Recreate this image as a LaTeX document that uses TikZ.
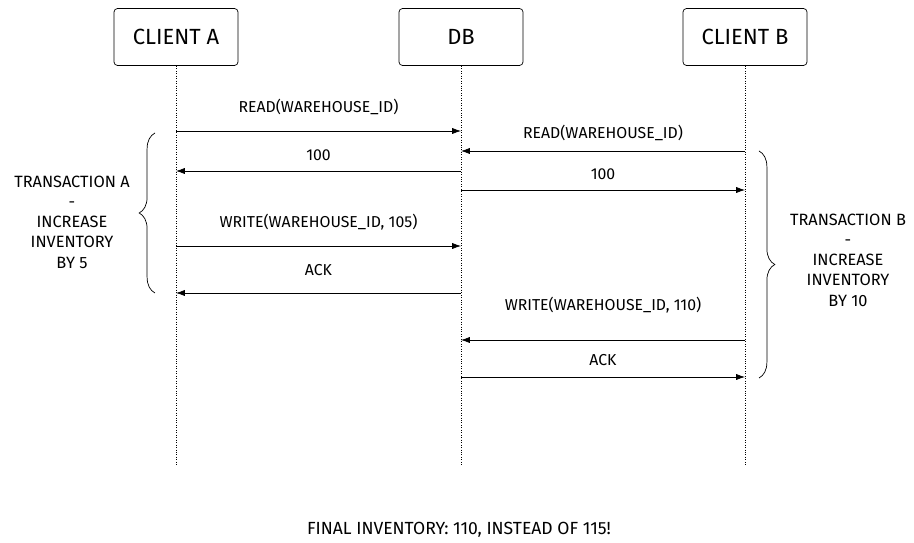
\documentclass[tikz,border=0pt]{standalone}
\usepackage{fontspec}
\setmainfont{Fira Sans}
\usepackage{tikz}
\usetikzlibrary{arrows.meta,decorations.pathreplacing}

\begin{document}
\begin{tikzpicture}[
        x=0.02cm, y=-0.02cm,
        font=\fontsize{9}{11}\selectfont,
        actor/.style={draw, rounded corners=2pt, minimum width=2.48cm, minimum height=1.14cm, font=\fontsize{12.5}{14}\selectfont},
        life/.style={densely dotted},
        msg/.style={-{Latex[length=5pt,width=3.5pt]}, thin},
        lbl/.style={inner sep=1pt},
        brc/.style={decorate, decoration={brace, amplitude=9pt}, thin},
        note/.style={align=center, font=\fontsize{9.3}{11.5}\selectfont}
    ]
        \useasboundingbox (0,0) rectangle (914,543);
        % participants
        \node[actor] (ca) at (176,37) {CLIENT A};
        \node[actor] (db) at (461,37) {DB};
        \node[actor] (cb) at (745,37) {CLIENT B};
        \coordinate (ae) at (176,465);
        \coordinate (de) at (461,465);
        \coordinate (be) at (745,465);
        \draw[life] (ca) -- (ae);
        \draw[life] (db) -- (de);
        \draw[life] (cb) -- (be);
        % message end points
        \foreach \n/\y in {1/131,2/151,3/171,4/190,5/246,6/293,7/340,8/377} {
            \coordinate (a\n) at (176,\y);
            \coordinate (d\n) at (461,\y);
            \coordinate (b\n) at (745,\y);
        }
        \draw[msg] (a1) -- (d1) node[lbl, midway, above=8pt] {READ(WAREHOUSE\_ID)};
        \draw[msg] (b2) -- (d2) node[lbl, midway, above=4.5pt] {READ(WAREHOUSE\_ID)};
        \draw[msg] (d3) -- (a3) node[lbl, midway, above=4.5pt] {100};
        \draw[msg] (d4) -- (b4) node[lbl, midway, above=4.5pt] {100};
        \draw[msg] (a5) -- (d5) node[lbl, midway, above=8pt] {WRITE(WAREHOUSE\_ID, 105)};
        \draw[msg] (d6) -- (a6) node[lbl, midway, above=8.5pt] {ACK};
        \draw[msg] (b7) -- (d7) node[lbl, midway, above=14pt] {WRITE(WAREHOUSE\_ID, 110)};
        \draw[msg] (d8) -- (b8) node[lbl, midway, above=5.5pt] {ACK};
        % transactions
        \coordinate (ta1) at (155,293);
        \coordinate (ta2) at (155,133);
        \coordinate (tb1) at (759,151);
        \coordinate (tb2) at (759,378);
        \draw[brc] (ta1) -- (ta2);
        \draw[brc] (tb1) -- (tb2);
        \node[note] (na) at (72,222) {TRANSACTION A\\-\\INCREASE\\INVENTORY\\BY 5};
        \node[note] (nb) at (848,260) {TRANSACTION B\\-\\INCREASE\\INVENTORY\\BY 10};
        \node[font=\fontsize{10}{12}\selectfont] (res) at (459,530) {FINAL INVENTORY: 110, INSTEAD OF 115!};
    \end{tikzpicture}
\end{document}
